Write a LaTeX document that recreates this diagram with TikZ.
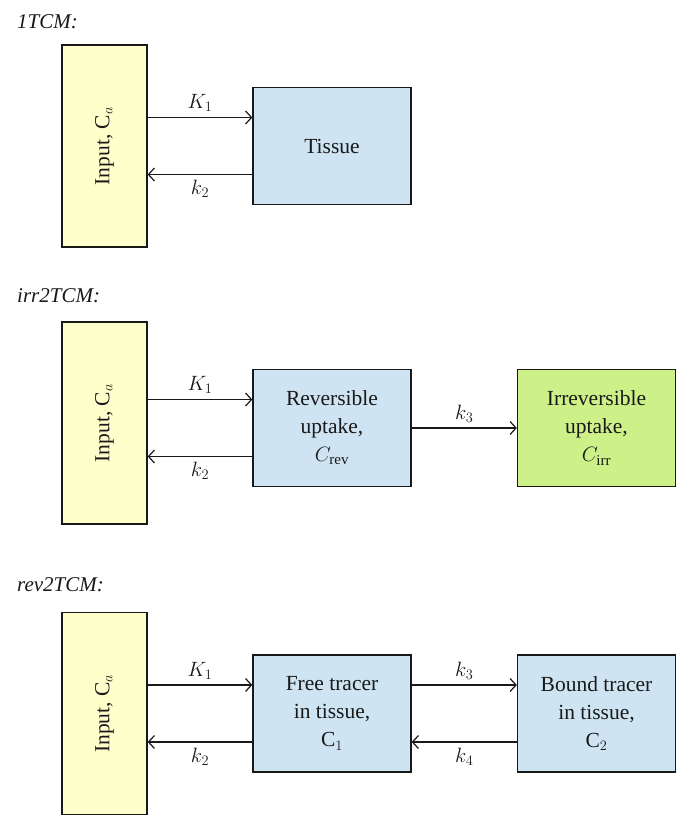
\documentclass[tikz,border=0pt]{standalone}
\usepackage{fontspec}
\setmainfont{Liberation Serif}
\usetikzlibrary{arrows.meta}

\begin{document}
\begin{tikzpicture}[x=1pt, y=-1pt, font=\fontsize{21.5}{28}\selectfont]

\definecolor{input_color}{RGB}{255,255,204}
\definecolor{tissue_color}{RGB}{207,228,242}
\definecolor{irr_color}{RGB}{206,240,136}
\definecolor{linetext}{RGB}{25,25,25}

\tikzset{
  comp/.style={draw=linetext, line width=1.3pt, fill=tissue_color, minimum width=158pt, minimum height=117pt, inner sep=0pt, align=center, text=linetext},
  inbox/.style={comp, fill=input_color, minimum width=85pt, minimum height=202pt},
  ar/.style={-{Straight Barb[length=6pt, width=13pt]}, line width=1.2pt, draw=linetext},
  lab/.style={text=linetext, inner sep=5pt},
  ttl/.style={anchor=west, inner sep=0pt, text=linetext, font=\fontsize{21}{24}\selectfont\itshape},
}

% two opposite arrows between an input box and a compartment
\newcommand{\xchg}[4]{%
  \path ([yshift=28.5pt]#2.west) coordinate (#2-hi) ([yshift=-28.5pt]#2.west) coordinate (#2-lo);
  \draw[ar] (#2-hi -| #1.east) -- node[lab, above] (#2-up) {#3} (#2-hi);
  \draw[ar] (#2-lo) -- node[lab, below] (#2-dn) {#4} (#2-lo -| #1.east);
}

\useasboundingbox (0,0) rectangle (690,829);

\node[ttl] (t1) at (17,22) {1TCM:};
\node[inbox] (in1) at (104.5,146) {};
\node[rotate=90, text=linetext] (in1l) at (in1) {Input, C$_a$};
\node[comp] (tis) at (332,146) {Tissue};
\xchg{in1}{tis}{$K_1$}{$k_2$}

\node[ttl] (t2) at (17,296) {irr2TCM:};
\node[inbox] (in2) at (104.5,423) {};
\node[rotate=90, text=linetext] (in2l) at (in2) {Input, C$_a$};
\node[comp] (rev) at (332,428) {Reversible\\uptake,\\$C_\mathrm{rev}$};
\node[comp, fill=irr_color] (irr) at (596.5,428) {Irreversible\\uptake,\\$C_\mathrm{irr}$};
\xchg{in2}{rev}{$K_1$}{$k_2$}
\draw[ar] (rev) -- node[lab, above] (k3l) {$k_3$} (irr);

\node[ttl] (t3) at (17,585) {rev2TCM:};
\node[inbox] (in3) at (104.5,713.5) {};
\node[rotate=90, text=linetext] (in3l) at (in3) {Input, C$_a$};
\node[comp] (free) at (332,713.5) {Free tracer\\in tissue,\\C$_1$};
\node[comp] (bound) at (596.5,713.5) {Bound tracer\\in tissue,\\C$_2$};
\xchg{in3}{free}{$K_1$}{$k_2$}
\xchg{free}{bound}{$k_3$}{$k_4$}

\end{tikzpicture}
\end{document}
